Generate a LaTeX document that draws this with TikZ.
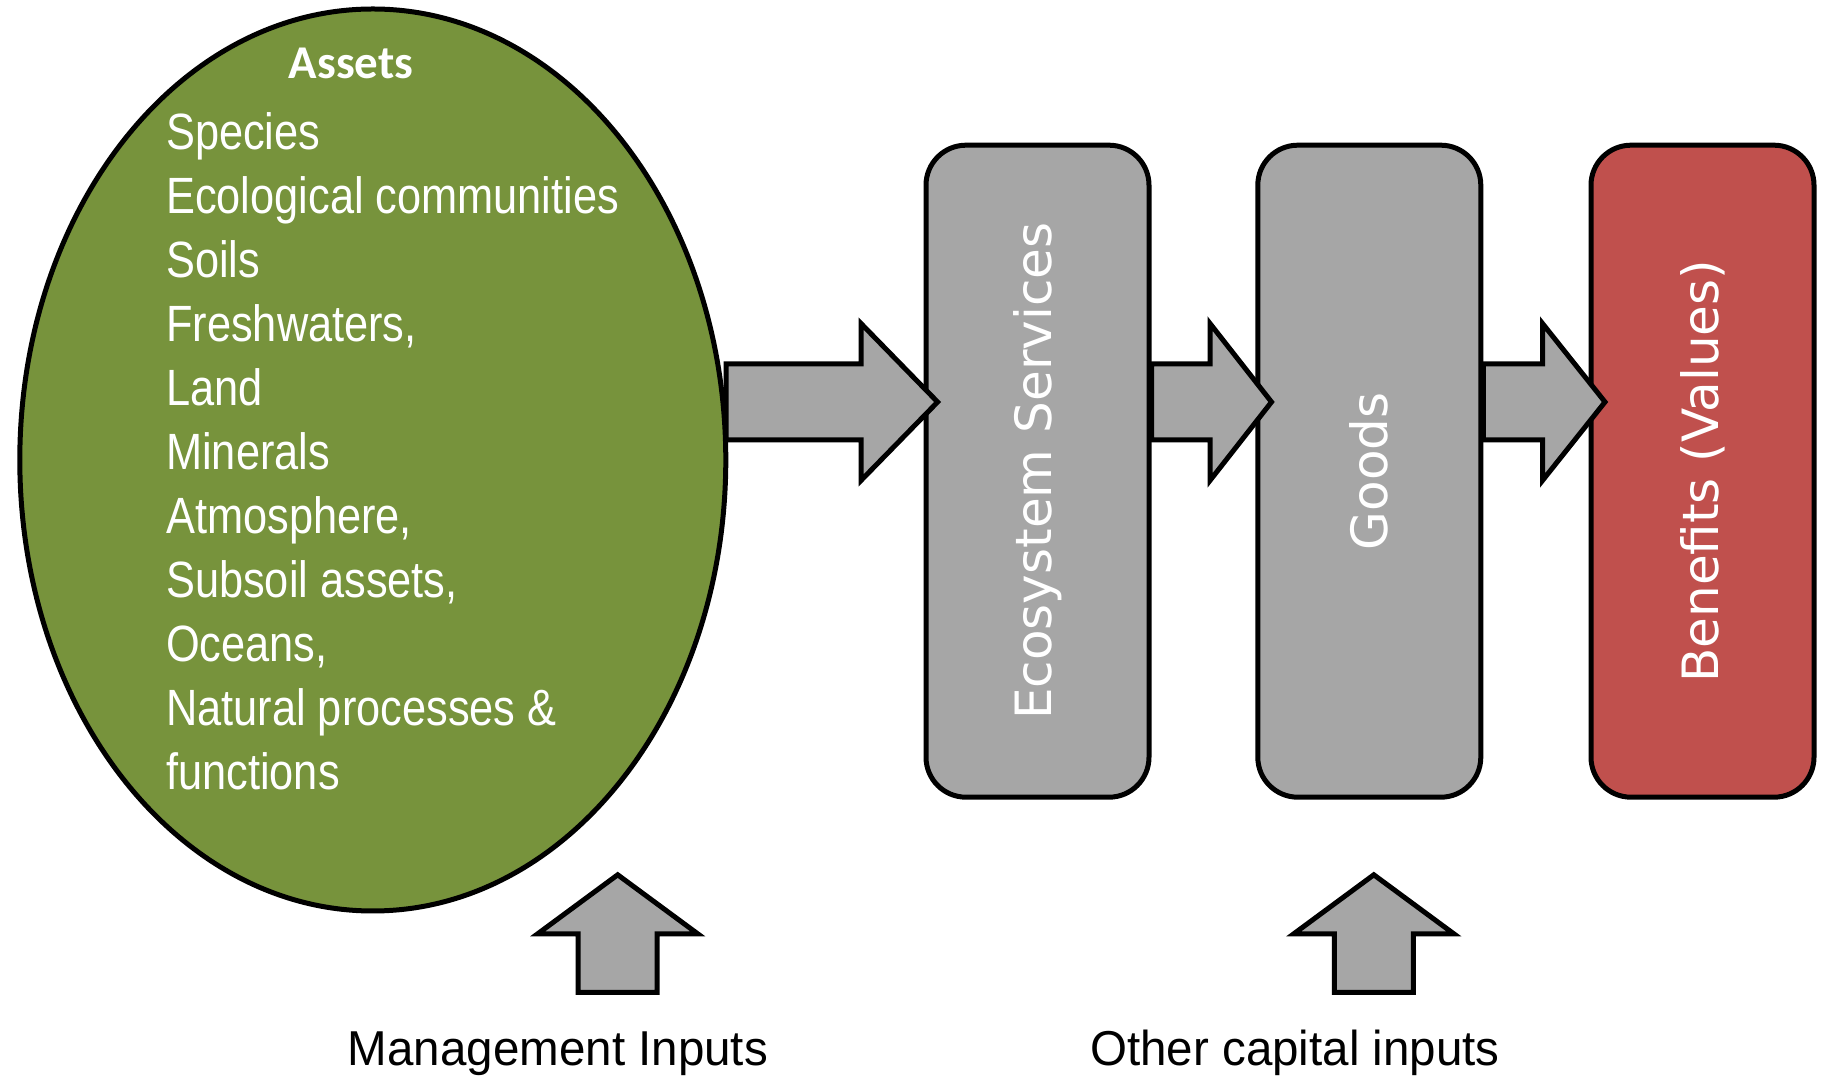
\documentclass[tikz,border=0pt]{standalone}
\usepackage{fontspec}
\usetikzlibrary{calc}
\newfontfamily\listfont[FakeStretch=0.85]{Liberation Sans}
\newfontfamily\labelfont[FakeStretch=0.97]{Liberation Sans}
\newfontfamily\boxfont{DejaVu Sans}
\newfontfamily\titlefont{Carlito}

\definecolor{assetgreen}{HTML}{77933C}
\definecolor{flowgray}{HTML}{A6A6A6}
\definecolor{benefitred}{HTML}{C0504D}

% horizontal block arrow: #1 start, #2 tip, #3 head length
\newcommand{\flowright}[3]{%
  \draw[blockarrow] let \p1=(#1), \p2=(#2) in
    (\x1,\y1+38pt) -- (\x2-#3pt,\y1+38pt) -- (\x2-#3pt,\y1+78.5pt) -- (\x2,\y2)
    -- (\x2-#3pt,\y1-78.5pt) -- (\x2-#3pt,\y1-38pt) -- (\x1,\y1-38pt) -- cycle;}
% vertical block arrow: #1 base, #2 tip
\newcommand{\flowup}[2]{%
  \draw[blockarrow] let \p1=(#1), \p2=(#2) in
    (\x1-39.5pt,\y1) -- (\x1+39.5pt,\y1) -- (\x1+39.5pt,\y2-59pt) -- (\x1+80pt,\y2-59pt)
    -- (\x2,\y2) -- (\x1-80pt,\y2-59pt) -- (\x1-39.5pt,\y2-59pt) -- cycle;}

\tikzset{
  outline/.style={draw=black, line width=5pt},
  stage/.style={outline, rounded corners=40pt, minimum width=223pt, minimum height=652pt,
    inner sep=0pt, text=white, font=\boxfont\fontsize{50}{60}\selectfont},
  blockarrow/.style={outline, fill=flowgray, line join=miter},
  listitem/.style={anchor=base west, inner sep=0pt, text=white, font=\listfont\fontsize{51}{64}\selectfont},
  inputlabel/.style={anchor=base, inner sep=0pt, text=black, font=\labelfont\fontsize{49}{58}\selectfont},
}

\begin{document}
\begin{tikzpicture}[x=1pt, y=1pt]
  \useasboundingbox (0,0) rectangle (1824,1076);

  % natural capital assets
  \draw[outline, fill=assetgreen] (372.8,616) ellipse [x radius=353, y radius=451];
  \coordinate (ell) at (372.8,616);
  \node[anchor=base, inner sep=0pt, text=white, font=\titlefont\bfseries\fontsize{47}{56}\selectfont]
    (assets) at (351,997) {Assets};
  \foreach \t [count=\i] in {Species, Ecological communities, Soils, {Freshwaters,}, Land,
      Minerals, {Atmosphere,}, {Subsoil assets,}, {Oceans,}, Natural processes \&, functions}
    \node[listitem] (item\i) at (166,{926.7-64*(\i-1)}) {\t};

  % stages
  \node[stage, fill=flowgray] (es) at (1037.5,604.8) {\rotatebox{90}{Ecosystem Services}};
  \node[stage, fill=flowgray] (goods) at (1369.3,604.8) {\rotatebox{90}{Goods}};
  \node[stage, fill=benefitred] (ben) at (1702.5,604.8) {\rotatebox{90}{Benefits (Values)}};

  % flows between stages
  \coordinate (a1s) at (726,674);   \coordinate (a1t) at (937.6,674);
  \coordinate (a2s) at (es.east |- a1s);    \coordinate (a2t) at (1271.5,674);
  \coordinate (a3s) at (goods.east |- a1s); \coordinate (a3t) at (1605,674);
  \flowright{a1s}{a1t}{76.6}
  \flowright{a2s}{a2t}{61.5}
  \flowright{a3s}{a3t}{62.5}

  % inputs
  \coordinate (m0) at (617.7,83.5);  \coordinate (m1) at (617.7,201.2);
  \coordinate (o0) at (1373.8,83.5); \coordinate (o1) at (1373.8,201.2);
  \flowup{m0}{m1}
  \flowup{o0}{o1}
  \node[inputlabel] (mgmt) at (558,10.3) {Management Inputs};
  \node[inputlabel] (other) at (1295,10.3) {Other capital inputs};
\end{tikzpicture}
\end{document}
